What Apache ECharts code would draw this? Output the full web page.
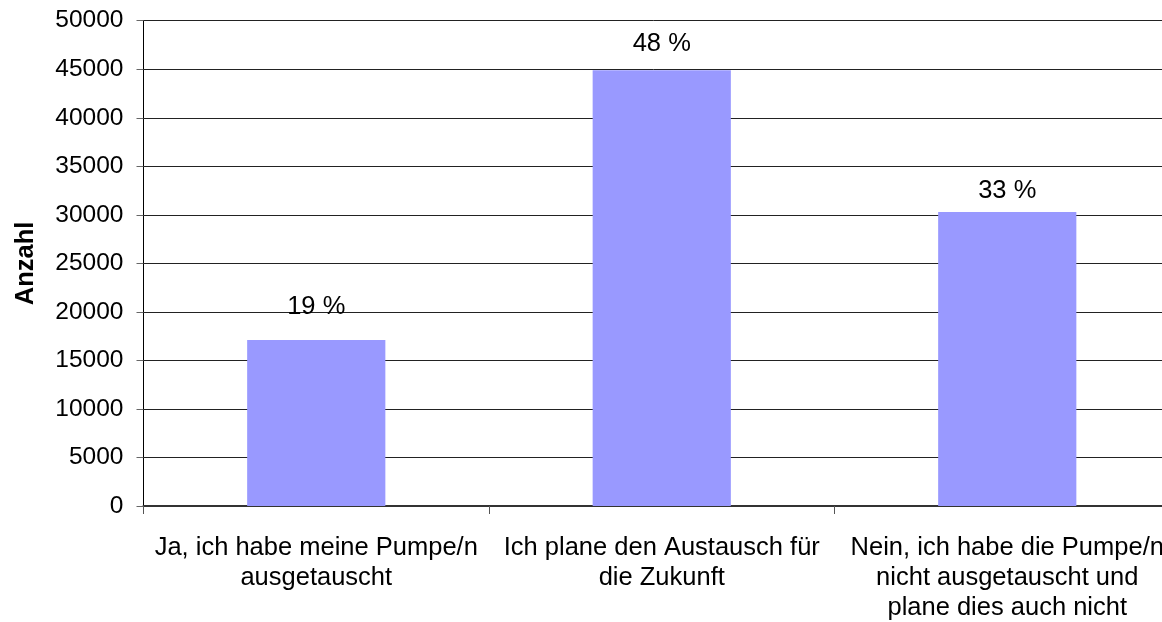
<!DOCTYPE html>
<html>
<head>
<meta charset="utf-8">
<script src="https://cdn.jsdelivr.net/npm/echarts@6/dist/echarts.min.js"></script>
<style>
  html, body { margin: 0; padding: 0; background: #fff; }
  #chart { width: 1162px; height: 622px; }
</style>
</head>
<body>
<div id="chart"></div>
<script>
// Kategorien (Antworten)
const categories = [
  'Ja, ich habe meine Pumpe/n\nausgetauscht',
  'Ich plane den Austausch für\ndie Zukunft',
  'Nein, ich habe die Pumpe/n\nnicht ausgetauscht und\nplane dies auch nicht'
];
// Anzahl je Antwort
const counts = [17100, 44900, 30300];
// Prozent-Beschriftungen
const percentLabels = ['19 %', '48 %', '33 %'];

const font = 'Liberation Sans, Arial, sans-serif';
// Abstand der Prozentangabe zum Balken
const labelGaps = [20, 13, 8];

const chart = echarts.init(document.getElementById('chart'));

const option = {
  animation: false,
  grid: { left: 143.5, right: -18, top: 20.7, bottom: 116, containLabel: false, outerBoundsMode: 'none' },
  xAxis: {
    type: 'category',
    data: categories,
    axisLine: { lineStyle: { color: '#333', width: 2 } },
    axisTick: { show: true, alignWithLabel: false, length: 8, lineStyle: { color: '#555' } },
    axisLabel: {
      interval: 0,
      color: '#000',
      fontFamily: font,
      fontSize: 25.5,
      lineHeight: 30,
      margin: 27
    }
  },
  yAxis: {
    type: 'value',
    min: 0,
    max: 50000,
    interval: 5000,
    name: 'Anzahl',
    nameLocation: 'middle',
    nameGap: 105,
    nameRotate: 90,
    nameMoveOverlap: false,
    nameTextStyle: { color: '#000', fontFamily: font, fontSize: 25.5, fontWeight: 'bold' },
    axisLine: { show: true, lineStyle: { color: '#000', width: 1 } },
    axisTick: { show: true, length: 7, lineStyle: { color: '#666' } },
    axisLabel: {
      color: '#000', fontFamily: font, fontSize: 24.5, margin: 20,
      formatter: v => String(v)
    },
    splitLine: { show: true, lineStyle: { color: '#222', width: 1 } }
  },
  series: [{
    type: 'bar',
    barWidth: '40%',
    itemStyle: { color: '#9999FF' },
    data: counts.map((v, i) => ({
      value: v,
      label: {
        show: true,
        position: 'top',
        distance: labelGaps[i],
        formatter: percentLabels[i],
        color: '#000',
        fontFamily: font,
        fontSize: 25.5
      }
    }))
  }]
};

chart.setOption(option);
</script>
</body>
</html>
